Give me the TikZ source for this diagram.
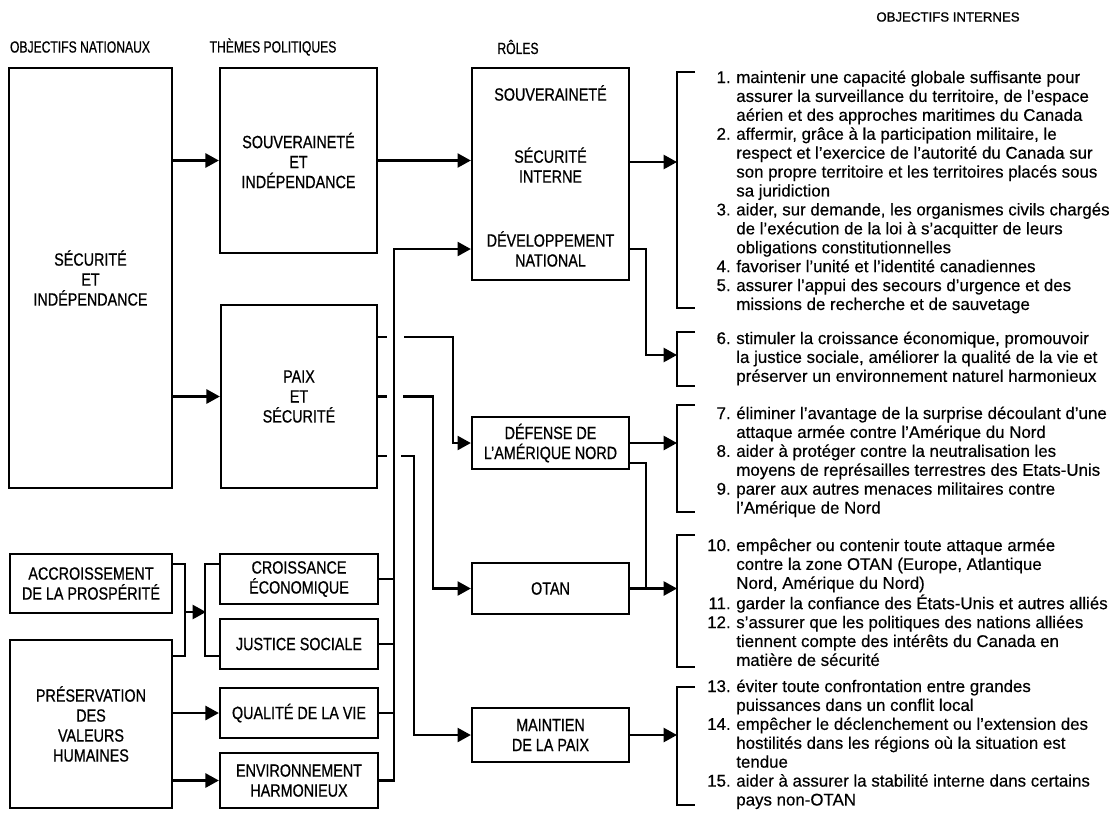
\documentclass[tikz,border=0pt]{standalone}
\usepackage{fontspec}
\setmainfont[FakeBold=0.4]{Liberation Sans}
\newfontfamily\condfont[FakeStretch=0.81,FakeBold=0.7]{Liberation Sans}
\newfontfamily\headfont[FakeStretch=0.75,FakeBold=0.6]{Liberation Sans}
\newfontfamily\intfont[FakeBold=0.9]{Liberation Sans}
\usetikzlibrary{arrows.meta}
\newcommand\itemno[1]{\makebox[26pt][r]{#1.}}

\begin{document}
\begin{tikzpicture}[x=.025cm, y=-.025cm, line width=1.6pt,
    box/.style={draw, inner sep=0pt, align=center,
      font=\condfont\fontsize{12.6}{14.2}\selectfont},
    rolelbl/.style={inner sep=0pt, align=center,
      font=\condfont\fontsize{12.6}{14.2}\selectfont},
    colhead/.style={inner sep=0pt, font=\headfont\fontsize{11.5}{12}\selectfont},
    objs/.style={anchor=base west, inner sep=0pt,
      font=\fontsize{12}{13.45}\selectfont},
    arr/.style={-{Triangle[length=9.5pt,width=10pt]}}]
  \fill[white] (0,0) rectangle (1116,812) ;
  \useasboundingbox (0,0) rectangle (1116,812) ;

  % column heads
  \node[colhead] (hnat) at (80,47) {OBJECTIFS NATIONAUX} ;
  \node[colhead] (hthm) at (273,47) {THÈMES POLITIQUES} ;
  \node[colhead] (hrol) at (518,47) {RÔLES} ;
  \node[inner sep=0pt, font=\intfont\fontsize{9.4}{11}\selectfont] (hint) at (948,17) {OBJECTIFS INTERNES} ;

  % objectifs nationaux
  \node[box, minimum width=4.075cm, minimum height=10.5cm] (secind) at (90.5,278) {SÉCURITÉ\\ET\\INDÉPENDANCE} ;
  \node[box, minimum width=4.05cm, minimum height=1.475cm] (accrois) at (91,583.5) {ACCROISSEMENT\\DE LA PROSPÉRITÉ} ;
  \node[box, minimum width=4.05cm, minimum height=4.2cm] (preserv) at (91,724) {PRÉSERVATION\\DES\\VALEURS\\HUMAINES} ;

  % themes politiques
  \node[box, minimum width=3.925cm, minimum height=4.625cm] (souvind) at (298.5,160.5) {SOUVERAINETÉ\\ET\\INDÉPENDANCE} ;
  \node[box, minimum width=3.9cm, minimum height=4.575cm] (paixsec) at (299,396.5) {PAIX\\ET\\SÉCURITÉ} ;
  \node[box, minimum width=3.95cm, minimum height=1.25cm] (croiss) at (299,579) {CROISSANCE\\ÉCONOMIQUE} ;
  \node[box, minimum width=3.95cm, minimum height=1.25cm] (justice) at (299,644) {JUSTICE SOCIALE} ;
  \node[box, minimum width=3.95cm, minimum height=1.25cm] (qualite) at (299,713) {QUALITÉ DE LA VIE} ;
  \node[box, minimum width=3.95cm, minimum height=1.375cm] (environ) at (299,780.5) {ENVIRONNEMENT\\HARMONIEUX} ;

  % roles
  \node[box, minimum width=3.925cm, minimum height=5.3cm] (roles) at (550.5,174) {} ;
  \node[rolelbl] (souv) at (550.5,93) {SOUVERAINETÉ} ;
  \node[rolelbl] (secint) at (550.5,165) {SÉCURITÉ\\INTERNE} ;
  \node[rolelbl] (devnat) at (550.5,249) {DÉVELOPPEMENT\\NATIONAL} ;
  \node[box, minimum width=3.925cm, minimum height=1.3cm] (defense) at (550.5,443) {DÉFENSE DE\\L’AMÉRIQUE NORD} ;
  \node[box, minimum width=3.925cm, minimum height=1.275cm] (otan) at (550.5,588.5) {OTAN} ;
  \node[box, minimum width=3.925cm, minimum height=1.35cm] (maintien) at (550.5,735) {MAINTIEN\\DE LA PAIX} ;

  % objectifs internes
  \coordinate (b1) at (677,162) ;
  \coordinate (b2) at (677,355) ;
  \coordinate (b3) at (677,443) ;
  \coordinate (b4) at (677,588.5) ;
  \coordinate (b5) at (677,735) ;
  \draw (695,72) -| (677,308) -- (695,308) ;
  \draw (695,332) -| (677,386) -- (695,386) ;
  \draw (695,405) -| (677,512) -- (695,512) ;
  \draw (695,535) -| (677,667) -- (695,667) ;
  \draw (695,687) -| (677,805) -- (695,805) ;

  \node[objs] (obj1) at (693,83) {\begin{tabular}[t]{@{}l@{\hspace{4pt}}l@{}}
    \itemno{1} & maintenir une capacité globale suffisante pour\\
    & assurer la surveillance du territoire, de l’espace\\
    & aérien et des approches maritimes du Canada\\
    \itemno{2} & affermir, grâce à la participation militaire, le\\
    & respect et l’exercice de l’autorité du Canada sur\\
    & son propre territoire et les territoires placés sous\\
    & sa juridiction\\
    \itemno{3} & aider, sur demande, les organismes civils chargés\\
    & de l’exécution de la loi à s’acquitter de leurs\\
    & obligations constitutionnelles\\
    \itemno{4} & favoriser l’unité et l’identité canadiennes\\
    \itemno{5} & assurer l’appui des secours d’urgence et des\\
    & missions de recherche et de sauvetage
  \end{tabular}} ;
  \node[objs] (obj6) at (693,344) {\begin{tabular}[t]{@{}l@{\hspace{4pt}}l@{}}
    \itemno{6} & stimuler la croissance économique, promouvoir\\
    & la justice sociale, améliorer la qualité de la vie et\\
    & préserver un environnement naturel harmonieux
  \end{tabular}} ;
  \node[objs] (obj7) at (693,419) {\begin{tabular}[t]{@{}l@{\hspace{4pt}}l@{}}
    \itemno{7} & éliminer l’avantage de la surprise découlant d’une\\
    & attaque armée contre l’Amérique du Nord\\
    \itemno{8} & aider à protéger contre la neutralisation les\\
    & moyens de représailles terrestres des Etats-Unis\\
    \itemno{9} & parer aux autres menaces militaires contre\\
    & l’Amérique de Nord
  \end{tabular}} ;
  \node[objs] (obj10) at (693,551) {\begin{tabular}[t]{@{}l@{\hspace{4pt}}l@{}}
    \itemno{10} & empêcher ou contenir toute attaque armée\\
    & contre la zone OTAN (Europe, Atlantique\\
    & Nord, Amérique du Nord)\\
    \itemno{11} & garder la confiance des États-Unis et autres alliés\\
    \itemno{12} & s’assurer que les politiques des nations alliées\\
    & tiennent compte des intérêts du Canada en\\
    & matière de sécurité
  \end{tabular}} ;
  \node[objs] (obj13) at (693,692) {\begin{tabular}[t]{@{}l@{\hspace{4pt}}l@{}}
    \itemno{13} & éviter toute confrontation entre grandes\\
    & puissances dans un conflit local\\
    \itemno{14} & empêcher le déclenchement ou l’extension des\\
    & hostilités dans les régions où la situation est\\
    & tendue\\
    \itemno{15} & aider à assurer la stabilité interne dans certains\\
    & pays non-OTAN
  \end{tabular}} ;

  % connectors
  \draw[arr] (secind.east |- souvind.west) -- (souvind.west) ;
  \draw[arr] (secind.east |- paixsec.west) -- (paixsec.west) ;
  \draw[arr] (souvind.east) -- (souvind.east -| roles.west) ;
  \draw[arr] (roles.east |- b1) -- (b1) ;
  \draw[arr] (roles.east |- devnat) -- ++(16,0) |- (b2) ;
  \draw[arr] (environ.east) -- ++(15,0) |- (devnat -| roles.west) ;
  \draw (croiss.east) -- ++(15,0) ;
  \draw (justice.east) -- ++(15,0) ;
  \draw (qualite.east) -- ++(15,0) ;

  \draw ([yshift=1.49cm]paixsec.east) -- ++(9,0) ;
  \draw (paixsec.east) -- ++(9,0) ;
  \draw ([yshift=-1.49cm]paixsec.east) -- ++(9,0) ;
  \draw[arr] ([xshift=.65cm,yshift=1.49cm]paixsec.east) -- ++(49,0) |- (defense.west) ;
  \draw[arr] ([xshift=.625cm]paixsec.east) -- ++(30,0) |- (otan.west) ;
  \draw[arr] ([xshift=.575cm,yshift=-1.49cm]paixsec.east) -- ++(13,0) |- (maintien.west) ;

  \draw[arr] (defense.east) -- (b3) ;
  \draw ([yshift=-.5cm]defense.east) -- ++(16,0) |- (otan.east) ;
  \draw[arr] (otan.east) -- (b4) ;
  \draw[arr] (maintien.east) -- (b5) ;

  \coordinate (accjn) at (185,612) ;
  \coordinate (thmjn) at (206,612) ;
  \draw ([yshift=.49cm]accrois.east) -- ++(12,0) |- ([yshift=1.7cm]preserv.east) ;
  \draw[arr] (accjn) -- (thmjn) ;
  \draw ([yshift=.375cm]croiss.west) -- ++(-14,0) |- ([yshift=-.3cm]justice.west) ;
  \draw[arr] (preserv.east |- qualite.west) -- (qualite.west) ;
  \draw[arr] (preserv.east |- environ.west) -- (environ.west) ;
\end{tikzpicture}
\end{document}
